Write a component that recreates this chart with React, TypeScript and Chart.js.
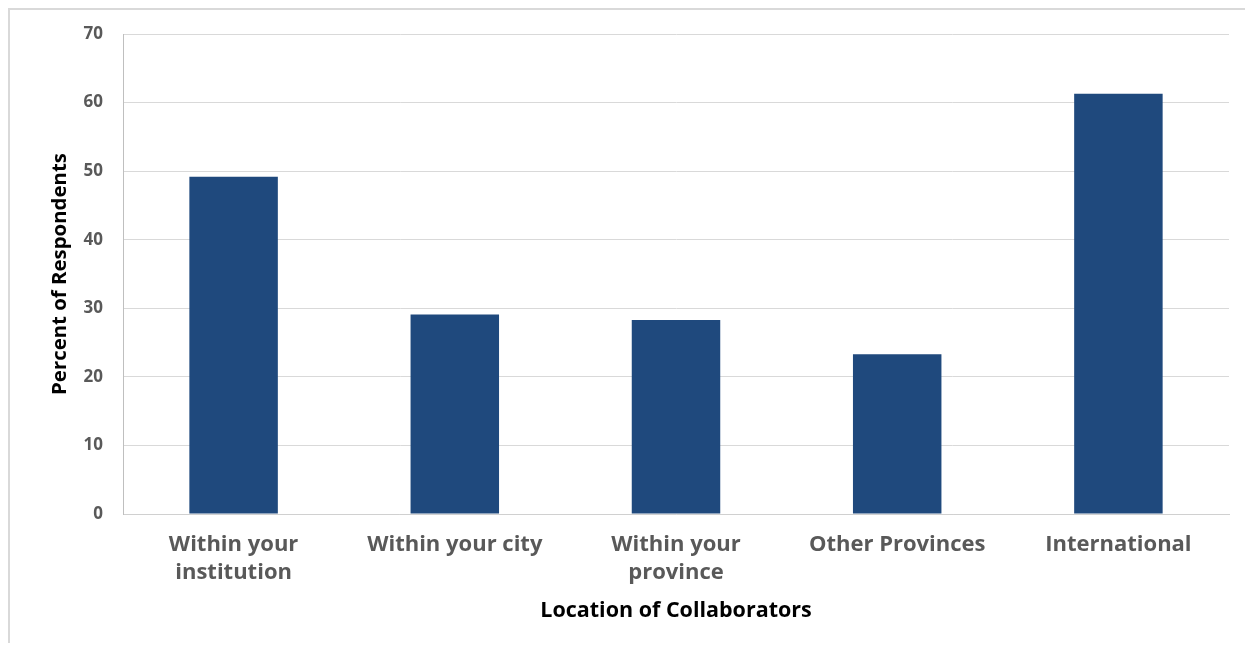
import React, { useEffect, useRef } from "react";
import { Chart, registerables } from "chart.js";

Chart.register(...registerables);

const categories: (string | string[])[] = [
  ["Within your", "institution"],
  "Within your city",
  ["Within your", "province"],
  "Other Provinces",
  "International",
];
const percentValues: number[] = [49.2, 29.1, 28.3, 23.3, 61.3];
const yTicks: number[] = [0, 10, 20, 30, 40, 50, 60, 70];

const FONT = "'Open Sans', 'Noto Sans', sans-serif";

export default function App() {
  const ref = useRef<HTMLCanvasElement | null>(null);

  useEffect(() => {
    document.body.style.overflow = "hidden";
    if (!ref.current) return;
    const chart = new Chart(ref.current, {
      type: "bar",
      data: {
        labels: categories,
        datasets: [
          {
            data: percentValues,
            backgroundColor: "#1F497D",
            borderWidth: 0,
            categoryPercentage: 1,
            barPercentage: 0.4,
          },
        ],
      },
      options: {
        animation: false,
        responsive: false,
        maintainAspectRatio: false,
        layout: { padding: { top: 26, right: 16, left: 0, bottom: 0 } },
        plugins: {
          legend: { display: false },
          tooltip: { enabled: false },
        },
        scales: {
          x: {
            grid: { display: false, drawTicks: false },
            border: { color: "#d0d0d0", width: 1 },
            ticks: {
              color: "#595959",
              font: { family: FONT, size: 22, weight: "bold", lineHeight: 1.27 },
              padding: 17,
              maxRotation: 0,
              autoSkip: false,
            },
            title: {
              display: true,
              text: "Location of Collaborators",
              color: "#000000",
              font: { family: FONT, size: 21.5, weight: "bold", lineHeight: 1.2 },
              padding: { top: 0, bottom: 19 },
            },
            afterFit: (scale: any) => {
              scale.height = 129;
              scale.paddingLeft = 0;
              scale.paddingRight = 0;
            },
          },
          y: {
            min: 0,
            max: 70,
            afterBuildTicks: (scale: any) => {
              scale.ticks = yTicks.map((v) => ({ value: v }));
            },
            grid: { color: "#d9d9d9", drawTicks: false },
            border: { color: "#bfbfbf", width: 1 },
            ticks: {
              color: "#595959",
              font: { family: FONT, size: 17, weight: "bold" },
              padding: 20,
            },
            title: {
              display: true,
              text: "Percent of Respondents",
              color: "#000000",
              font: { family: FONT, size: 20.4, weight: "bold", lineHeight: 1.2 },
              padding: { top: 40, bottom: 0 },
            },
            afterFit: (scale: any) => {
              scale.width = 115;
              scale.paddingTop = 0;
              scale.paddingBottom = 0;
            },
          },
        },
      },
    });
    return () => chart.destroy();
  }, []);

  return (
    <div
      style={{
        width: 1237,
        height: 635,
        borderLeft: "2px solid #d9d9d9",
        borderTop: "2px solid #d9d9d9",
        boxSizing: "border-box",
        position: "relative",
      }}
    >
      <canvas
        ref={ref}
        width={1237}
        height={635}
        style={{ position: "absolute", left: -2, top: -2, width: 1237, height: 635 }}
      />
    </div>
  );
}
